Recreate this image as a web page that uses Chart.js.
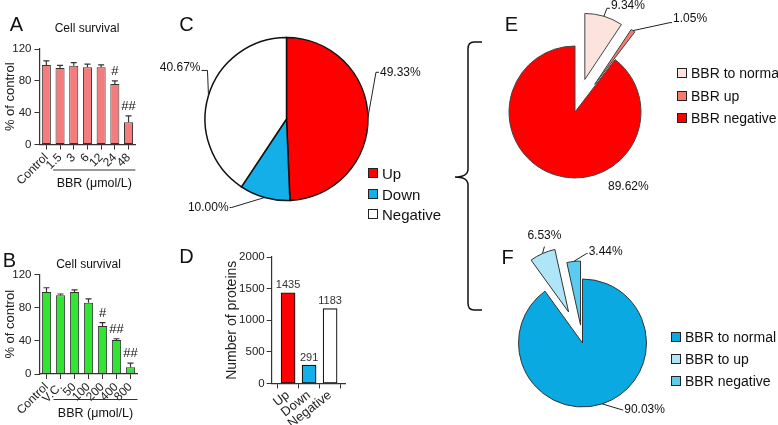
<!DOCTYPE html>
<html>
<head>
<meta charset="utf-8">
<script src="https://cdn.jsdelivr.net/npm/chart.js@4.4.1/dist/chart.umd.min.js"></script>
<style>
  body { margin: 0; width: 778px; height: 425px; position: relative; overflow: hidden; background: #fff;
         font-family: 'Liberation Sans', Arial, sans-serif; color: #111; }
  canvas { position: absolute; }
  .t { position: absolute; white-space: nowrap; line-height: 1; transform: translate(-50%, -50%); }
  .lg { position: absolute; white-space: nowrap; line-height: 1; transform: translateY(-50%); }
  .box { position: absolute; box-sizing: border-box; border: 1px solid #222; }
</style>
</head>
<body>
<svg style="position:absolute;left:445px;top:35px" width="45" height="285">
  <path d="M37,7 L29,7 Q23,7 23,14 L23,134 Q23,142 10,142 Q23,142 23,150 L23,268 Q23,275 29,275 L37,275"
        fill="none" stroke="#111" stroke-width="1.5"/>
</svg>
<script>
// ---- data ----
const survivalALabels = ['Control', '1.5', '3', '6', '12', '24', '48'];
const survivalAValues = [100, 96, 99, 97, 97, 76, 28];
const survivalAErrors = [5, 3.5, 4, 4, 3, 4, 8];
const survivalAMarks = ['', '', '', '', '', '#', '##'];

const survivalBLabels = ['Control', 'V.C.', '50', '100', '200', '400', '800'];
const survivalBValues = [99, 95, 99, 86, 58, 41, 8];
const survivalBErrors = [5, 1.5, 2.5, 4.5, 4, 1.5, 5];
const survivalBMarks = ['', '', '', '', '#', '##', '##'];

const survivalTicks = [0, 40, 80, 120];

const changeLabels = ['Up', 'Down', 'Negative'];
const changePercents = [49.33, 10.00, 40.67];
const proteinCounts = [1435, 291, 1183];
const proteinTicks = [0, 500, 1000, 1500, 2000];

const upLabels = ['BBR to normal', 'BBR up', 'BBR negative'];
const upPercents = [9.34, 1.05, 89.62];
const downLabels = ['BBR to normal', 'BBR to up', 'BBR negative'];
const downPercents = [90.03, 6.53, 3.44];

// ---- colours ----
const changeColors = ['#ff0000', '#14aee8', '#ffffff'];
const upColors = ['#fde3de', '#f47a72', '#ff0000'];
const downColors = ['#0aa9e2', '#aee6f8', '#5ccbf0'];

const FONT = "'Liberation Sans', Arial, sans-serif";
Chart.defaults.font.family = FONT;
Chart.defaults.color = '#222';
Chart.defaults.plugins.legend.display = false;
Chart.defaults.plugins.tooltip.enabled = false;

function canvasAt(left, top, w, h) {
  const c = document.createElement('canvas');
  c.style.left = left + 'px';
  c.style.top = top + 'px';
  c.style.width = w + 'px';
  c.style.height = h + 'px';
  c.width = w;
  c.height = h;
  document.body.appendChild(c);
  return c;
}

function text(str, x, y, size) {
  const d = document.createElement('div');
  d.className = 't';
  d.style.left = x + 'px';
  d.style.top = y + 'px';
  d.style.fontSize = size + 'px';
  d.textContent = str;
  document.body.appendChild(d);
}

function legend(x, y, gap, box, size, labels, colors) {
  labels.forEach((lab, i) => {
    const b = document.createElement('div');
    b.className = 'box';
    b.style.left = x + 'px';
    b.style.top = (y + i * gap - box / 2) + 'px';
    b.style.width = box + 'px';
    b.style.height = box + 'px';
    b.style.background = colors[i];
    document.body.appendChild(b);
    const t = document.createElement('div');
    t.className = 'lg';
    t.style.left = (x + box + 4) + 'px';
    t.style.top = (y + i * gap) + 'px';
    t.style.fontSize = size + 'px';
    t.textContent = lab;
    document.body.appendChild(t);
  });
}

// error bars, # marks and the grouped caption under the x labels
const errorBars = {
  id: 'errorBars',
  afterDatasetsDraw(chart, args, o) {
    const {ctx, chartArea} = chart;
    const y = chart.scales.y, x = chart.scales.x;
    const vals = chart.data.datasets[0].data;
    const meta = chart.getDatasetMeta(0);
    ctx.save();
    ctx.strokeStyle = '#333';
    ctx.fillStyle = '#111';
    ctx.lineWidth = 1.2;
    ctx.font = '13px ' + FONT;
    ctx.textAlign = 'center';
    ctx.textBaseline = 'bottom';
    meta.data.forEach((bar, i) => {
      const top = y.getPixelForValue(vals[i] + o.errors[i]);
      ctx.beginPath();
      ctx.moveTo(bar.x, bar.y);
      ctx.lineTo(bar.x, top);
      ctx.moveTo(bar.x - 3, top);
      ctx.lineTo(bar.x + 3, top);
      ctx.stroke();
      if (o.marks[i]) ctx.fillText(o.marks[i], bar.x, top - 3);
    });
    const band = x.getPixelForValue(1) - x.getPixelForValue(0);
    const x0 = x.getPixelForValue(o.groupFrom) - band / 2;
    const x1 = x.getPixelForValue(vals.length - 1) + band / 2;
    const ly = chartArea.bottom + o.lineGap;
    ctx.lineWidth = 1;
    ctx.beginPath();
    ctx.moveTo(x0, ly);
    ctx.lineTo(x1, ly);
    ctx.stroke();
    ctx.font = '12.5px ' + FONT;
    ctx.textBaseline = 'middle';
    ctx.fillText(o.caption, (x0 + x1) / 2, ly + 14);
    ctx.restore();
  }
};

function survivalChart(box, area, labels, values, errors, marks, fill) {
  const c = canvasAt(box.left, box.top, box.w, box.h);
  return new Chart(c, {
    type: 'bar',
    data: {
      labels: labels,
      datasets: [{
        data: values,
        backgroundColor: fill,
        borderColor: '#333',
        borderWidth: 1,
        borderSkipped: false,
        categoryPercentage: 1,
        barPercentage: 0.66
      }]
    },
    options: {
      responsive: false,
      animation: false,
      events: [],
      layout: { padding: { left: 0, top: area.top - box.top, right: box.left + box.w - area.right, bottom: 0 } },
      scales: {
        x: {
          afterFit: s => { s.height = box.top + box.h - area.bottom; },
          grid: { display: true, drawOnChartArea: false, offset: false, tickLength: 5, color: '#333' },
          border: { display: true, color: '#333', width: 1.2 },
          ticks: { autoSkip: false, minRotation: 45, maxRotation: 45, padding: 1, color: '#222', font: { size: 12 } }
        },
        y: {
          min: survivalTicks[0],
          max: survivalTicks[survivalTicks.length - 1],
          afterBuildTicks: s => { s.ticks = survivalTicks.map(v => ({ value: v })); },
          afterFit: s => { s.width = area.left - box.left; },
          grid: { display: true, drawOnChartArea: false, tickLength: 5, color: '#333' },
          border: { display: true, color: '#333', width: 1.2 },
          ticks: { padding: 3, color: '#222', font: { size: 11.5 } },
          title: { display: true, text: '% of control', color: '#222', font: { size: 13 }, padding: { top: 2.2, bottom: 0 } }
        }
      },
      plugins: {
        errorBars: { errors: errors, marks: marks, groupFrom: 1, lineGap: 25.5, caption: 'BBR (μmol/L)' }
      }
    },
    plugins: [errorBars]
  });
}

// moves the chosen slices out from the centre
const explode = {
  id: 'explode',
  afterDatasetsUpdate(chart, args, o) {
    chart.getDatasetMeta(0).data.forEach((arc, i) => {
      const d = o.distances[i] || 0;
      const mid = (arc.startAngle + arc.endAngle) / 2;
      arc.x += Math.cos(mid) * d;
      arc.y += Math.sin(mid) * d;
    });
  }
};

// percentage labels with leader lines
const pieLabels = {
  id: 'pieLabels',
  afterDatasetsDraw(chart, args, o) {
    const {ctx, chartArea} = chart;
    const vals = chart.data.datasets[0].data;
    const cx = (chartArea.left + chartArea.right) / 2;
    const cy = (chartArea.top + chartArea.bottom) / 2;
    ctx.save();
    ctx.font = '12px ' + FONT;
    ctx.fillStyle = '#111';
    ctx.strokeStyle = '#222';
    ctx.lineWidth = 1;
    ctx.textBaseline = 'middle';
    chart.getDatasetMeta(0).data.forEach((arc, i) => {
      const L = o.leaders[i];
      const label = vals[i].toFixed(2) + '%';
      if (L.free) {
        ctx.textAlign = 'left';
        ctx.fillText(label, cx + L.dx, cy + L.dy);
        return;
      }
      const mid = (arc.startAngle + arc.endAngle) / 2;
      const ex = arc.x + Math.cos(mid) * arc.outerRadius;
      const ey = arc.y + Math.sin(mid) * arc.outerRadius;
      const kx = ex + L.dx, ky = ey + L.dy;
      ctx.beginPath();
      ctx.moveTo(ex, ey);
      ctx.lineTo(kx, ky);
      if (L.above) {
        ctx.stroke();
        ctx.textAlign = 'center';
        ctx.fillText(label, kx, ky - 11);
        return;
      }
      ctx.lineTo(kx + L.hx, ky);
      ctx.stroke();
      ctx.textAlign = L.hx < 0 ? 'right' : 'left';
      ctx.fillText(label, kx + L.hx + (L.hx < 0 ? -1 : 1), ky + (L.ty || 0));
    });
    ctx.restore();
  }
};

function pieChart(box, center, radius, values, colors, border, distances, leaders) {
  const c = canvasAt(box.left, box.top, box.w, box.h);
  const w = 2 * Math.min(center.x - box.left, box.left + box.w - center.x);
  const h = 2 * Math.min(center.y - box.top, box.top + box.h - center.y);
  const pl = center.x - box.left - w / 2, pt = center.y - box.top - h / 2;
  return new Chart(c, {
    type: 'pie',
    data: {
      datasets: [{ data: values, backgroundColor: colors, borderColor: border.color, borderWidth: border.width, borderJoinStyle: 'miter' }]
    },
    options: {
      responsive: false,
      animation: false,
      events: [],
      radius: radius,
      layout: { padding: { left: pl, top: pt, right: box.w - pl - w, bottom: box.h - pt - h } },
      plugins: {
        explode: { distances: distances },
        pieLabels: { leaders: leaders }
      }
    },
    plugins: [explode, pieLabels]
  });
}

// value labels above the protein count bars
const barValues = {
  id: 'barValues',
  afterDatasetsDraw(chart) {
    const {ctx} = chart;
    const vals = chart.data.datasets[0].data;
    ctx.save();
    ctx.font = '11px ' + FONT;
    ctx.fillStyle = '#333';
    ctx.textAlign = 'center';
    ctx.textBaseline = 'bottom';
    chart.getDatasetMeta(0).data.forEach((bar, i) => {
      ctx.fillText(String(vals[i].y), bar.x, bar.y - 2);
    });
    ctx.restore();
  }
};

// ---- A / B ----
survivalChart({ left: 0, top: 30, w: 140, h: 180 }, { left: 39.5, right: 136, top: 49, bottom: 144.5 },
  survivalALabels, survivalAValues, survivalAErrors, survivalAMarks, '#f47c7c');
survivalChart({ left: 0, top: 240, w: 145, h: 185 }, { left: 39.5, right: 137.5, top: 274.5, bottom: 374 },
  survivalBLabels, survivalBValues, survivalBErrors, survivalBMarks, '#33e533');

// ---- C ----
pieChart({ left: 158, top: 30, w: 270, h: 200 }, { x: 286.5, y: 119 }, 81.5, changePercents, changeColors,
  { color: '#111', width: 1.5 }, [0, 0, 0],
  [{ dx: 8, dy: -45, hx: 3 }, { dx: -33, dy: 10, hx: -2 }, { dx: -1, dy: -25, hx: -6, ty: -3 }]);
legend(368, 173, 20.5, 10, 15, changeLabels, changeColors);

// ---- D ----
{
  const box = { left: 205, top: 240, w: 150, h: 185 };
  const area = { left: 271.7, right: 345, top: 257, bottom: 383.5 };
  new Chart(canvasAt(box.left, box.top, box.w, box.h), {
    type: 'bar',
    data: {
      datasets: [{
        data: proteinCounts.map((v, i) => ({ x: i, y: v })),
        backgroundColor: changeColors,
        borderColor: '#111',
        borderWidth: 1.2,
        borderSkipped: false,
        barThickness: 14
      }]
    },
    options: {
      responsive: false,
      animation: false,
      events: [],
      layout: { padding: { left: 0, top: area.top - box.top, right: box.left + box.w - area.right, bottom: 0 } },
      scales: {
        x: {
          type: 'linear',
          min: -0.78,
          max: 2.71,
          offset: false,
          afterBuildTicks: s => { s.ticks = changeLabels.map((_, i) => ({ value: i })); },
          afterFit: s => { s.height = box.top + box.h - area.bottom; },
          grid: { display: true, drawOnChartArea: false, tickLength: 5, color: '#333' },
          border: { display: true, color: '#333', width: 1.2 },
          ticks: { callback: v => changeLabels[v], autoSkip: false, minRotation: 38, maxRotation: 38, padding: -1, color: '#222', font: { size: 13 } }
        },
        y: {
          min: proteinTicks[0],
          max: proteinTicks[proteinTicks.length - 1],
          afterBuildTicks: s => { s.ticks = proteinTicks.map(v => ({ value: v })); },
          afterFit: s => { s.width = area.left - box.left; },
          grid: { display: true, drawOnChartArea: false, tickLength: 5, color: '#333' },
          border: { display: true, color: '#333', width: 1.2 },
          ticks: { callback: v => String(v), padding: 2, color: '#222', font: { size: 11.5 } },
          title: { display: true, text: 'Number of proteins', color: '#222', font: { size: 14 }, padding: { top: 18.3, bottom: 0 } }
        }
      }
    },
    plugins: [barValues]
  });
}

// ---- E ----
pieChart({ left: 485, top: 0, w: 230, h: 205 }, { x: 575, y: 112 }, 66, upPercents, upColors,
  { color: '#444', width: 1 }, [34, 34, 0],
  [{ dx: 3, dy: -8, hx: 3, ty: -3 }, { dx: 37, dy: -8, hx: 2, ty: -4 }, { free: true, dx: 33, dy: 75 }]);
legend(677, 73, 22.5, 10, 14, upLabels, upColors);

// ---- F ----
pieChart({ left: 490, top: 225, w: 200, h: 200 }, { x: 582.5, y: 343 }, 64, downPercents, downColors,
  { color: '#333', width: 1 }, [0, 34, 18],
  [{ dx: 20, dy: 6, hx: 1 }, { dx: 2, dy: -7, above: true }, { dx: 13, dy: -8, hx: 1, ty: -2 }]);
legend(671, 337, 22, 10, 14, downLabels, downColors);

// ---- panel letters and titles ----
text('A', 16.5, 24, 20);
text('B', 9.5, 260, 20);
text('C', 186.5, 24, 20);
text('D', 186.5, 256, 20);
text('E', 511.5, 24, 20);
text('F', 507.5, 257, 20);
text('Cell survival', 87, 27.5, 12);
text('Cell survival', 88.5, 263.5, 12);
</script>
</body>
</html>
